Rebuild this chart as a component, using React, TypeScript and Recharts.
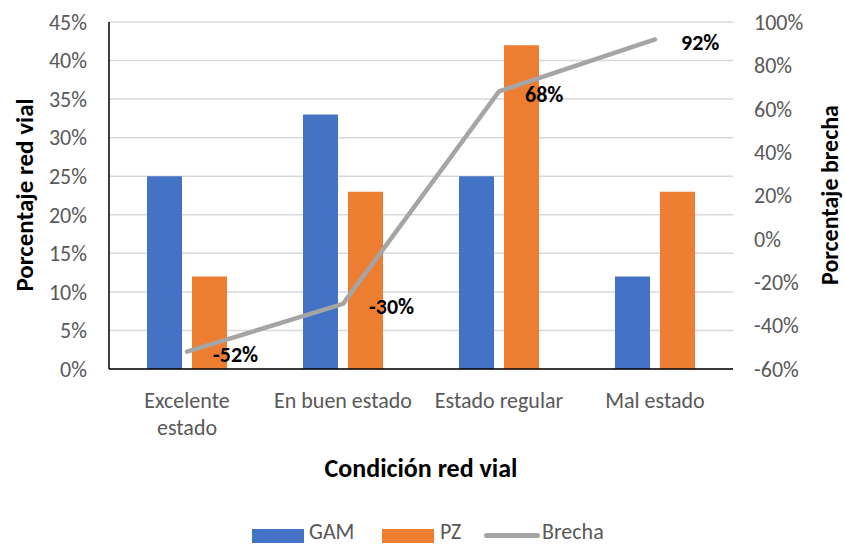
import React from 'react';
import { ComposedChart, Bar, Line, XAxis, YAxis, CartesianGrid, Legend, LabelList } from 'recharts';

const categories = ['Excelente estado', 'En buen estado', 'Estado regular', 'Mal estado'];
const gam = [25, 33, 25, 12];
const pz = [12, 23, 42, 23];
const brecha = [-52, -30, 68, 92];
const leftTicks = [0, 5, 10, 15, 20, 25, 30, 35, 40, 45];
const rightTicks = [-60, -40, -20, 0, 20, 40, 60, 80, 100];

const FONT = 'Carlito, Calibri, Lato, sans-serif';
const GREY_TEXT = '#595959';
const COLORS = { gam: '#4472C4', pz: '#ED7D31', brecha: '#A5A5A5' };

// Excel wraps the first category onto two lines
const wrapped: Record<string, string[]> = { 'Excelente estado': ['Excelente', 'estado'] };

const data = categories.map((name, i) => ({ name, GAM: gam[i], PZ: pz[i], Brecha: brecha[i] }));

const CategoryTick = (props: any) => {
  const { x, y, payload } = props;
  const lines = wrapped[payload.value] || [payload.value];
  return (
    <text x={x} y={y} textAnchor="middle" fill={GREY_TEXT} fontSize={22} fontFamily={FONT}>
      {lines.map((l, i) => (
        <tspan key={i} x={x} y={y + 39 + i * 27}>{l}</tspan>
      ))}
    </text>
  );
};

const BrechaLabel = (props: any) => {
  const { x, y, value } = props;
  return (
    <text x={x + 26} y={y + 3} dominantBaseline="central" fill="#000" fontSize={22} fontWeight="bold" fontFamily={FONT}>
      {`${value}%`}
    </text>
  );
};

const legendText: React.CSSProperties = { position: 'absolute', top: -3, lineHeight: '22px', fontSize: 22, color: GREY_TEXT, fontFamily: FONT };

const LegendContent = () => (
  <div style={{ position: 'relative', width: 845, height: 24 }}>
    <span style={{ position: 'absolute', left: 252, top: 5, width: 52, height: 14, background: COLORS.gam }} />
    <span style={{ ...legendText, left: 309 }}>GAM</span>
    <span style={{ position: 'absolute', left: 382, top: 5, width: 52, height: 14, background: COLORS.pz }} />
    <span style={{ ...legendText, left: 440 }}>PZ</span>
    <span style={{ position: 'absolute', left: 484, top: 9, width: 56, height: 5, borderRadius: 3, background: COLORS.brecha }} />
    <span style={{ ...legendText, left: 542 }}>Brecha</span>
  </div>
);

const App: React.FC = () => {
  return (
    <div style={{ position: 'absolute', left: 0, top: 0, width: 845, height: 548, background: '#fff' }}>
      <ComposedChart width={845} height={548} data={data} margin={{ top: 22, right: 0, bottom: 0, left: 0 }} barSize={35} barGap={10}>
        <CartesianGrid yAxisId="left" vertical={false} stroke="#d9d9d9" strokeWidth={1.5} />
        <XAxis
          dataKey="name"
          height={155}
          tickLine={false}
          tickSize={0}
          tickMargin={0}
          axisLine={{ stroke: '#000', strokeWidth: 1.5 }}
          tick={<CategoryTick />}
          interval={0}
          label={({ viewBox }: any) => (
            <text x={viewBox.x + viewBox.width / 2} y={viewBox.y + 108} textAnchor="middle" fontSize={26} fontWeight="bold" fontFamily={FONT} fill="#000">
              Condición red vial
            </text>
          )}
        />
        <YAxis
          yAxisId="left"
          width={109}
          domain={[0, 45]}
          ticks={leftTicks}
          tickFormatter={(v) => `${v}%`}
          tickLine={false}
          tickSize={0}
          tickMargin={22}
          axisLine={{ stroke: '#000', strokeWidth: 1.5 }}
          tick={{ fill: GREY_TEXT, fontSize: 22, fontFamily: FONT }}
          label={() => (
            <text x={24} y={195} transform="rotate(-90, 24, 195)" textAnchor="middle" dominantBaseline="central" fontSize={25} fontWeight="bold" fontFamily={FONT} fill="#000">
              Porcentaje red vial
            </text>
          )}
        />
        <YAxis
          yAxisId="right"
          orientation="right"
          width={112}
          domain={[-60, 100]}
          ticks={rightTicks}
          tickFormatter={(v) => `${v}%`}
          tickLine={false}
          tickSize={0}
          tickMargin={21}
          axisLine={false}
          tick={{ fill: GREY_TEXT, fontSize: 22, fontFamily: FONT, textAnchor: 'start' }}
          label={() => (
            <text x={829} y={195} transform="rotate(-90, 829, 195)" textAnchor="middle" dominantBaseline="central" fontSize={24} fontWeight="bold" fontFamily={FONT} fill="#000">
              Porcentaje brecha
            </text>
          )}
        />
        <Legend verticalAlign="bottom" height={24} content={<LegendContent />} />
        <Bar yAxisId="left" dataKey="GAM" fill={COLORS.gam} isAnimationActive={false} />
        <Bar yAxisId="left" dataKey="PZ" fill={COLORS.pz} isAnimationActive={false} />
        <Line
          yAxisId="right"
          dataKey="Brecha"
          stroke={COLORS.brecha}
          strokeWidth={4.5}
          strokeLinecap="round"
          dot={false}
          activeDot={false}
          isAnimationActive={false}
        >
          <LabelList dataKey="Brecha" content={<BrechaLabel />} />
        </Line>
      </ComposedChart>
    </div>
  );
};

export default App;
